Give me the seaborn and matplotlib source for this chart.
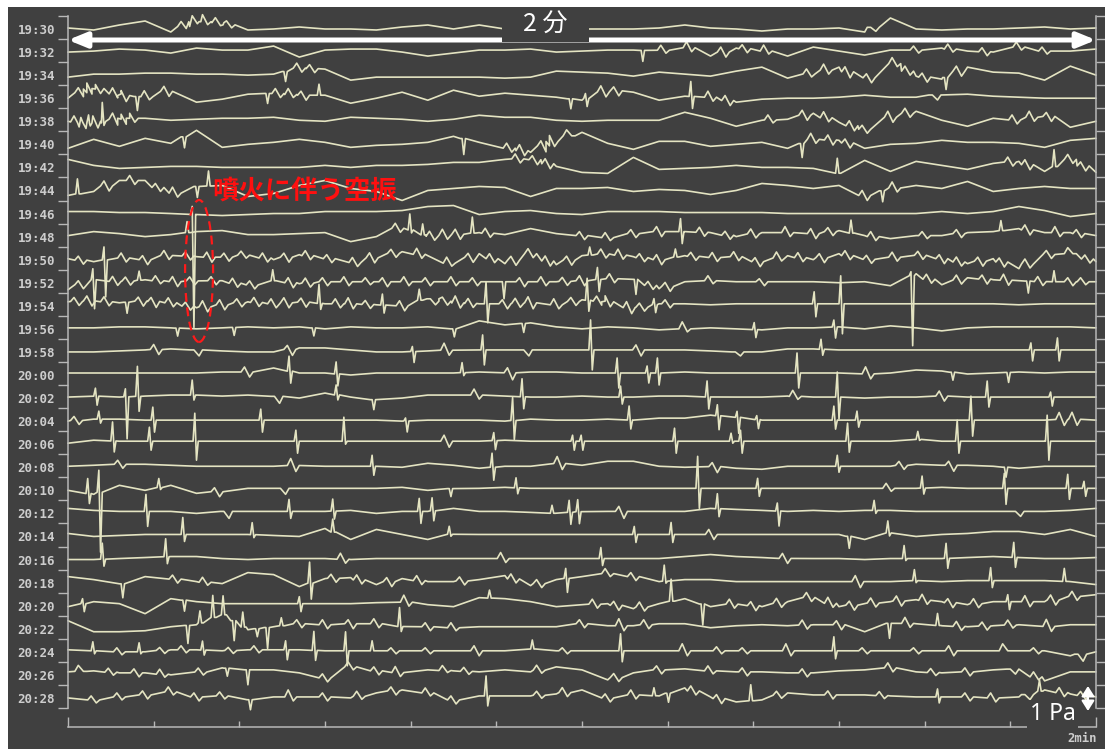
import numpy as np
import pandas as pd
import matplotlib
matplotlib.use("Agg")
import matplotlib.pyplot as plt
import seaborn as sns
from matplotlib.patches import Ellipse, Rectangle

# ---------------- data ----------------
LABELS = ["19:30", "19:32", "19:34", "19:36", "19:38", "19:40", "19:42", "19:44",
          "19:46", "19:48", "19:50", "19:52", "19:54", "19:56", "19:58", "20:00",
          "20:02", "20:04", "20:06", "20:08", "20:10", "20:12", "20:14", "20:16",
          "20:18", "20:20", "20:22", "20:24", "20:26", "20:28"]

# sample times (s) of the slow trace level, 0..120 s every 3 s
T_GRID = np.arange(0, 121, 3)
# unit of all trace values: 1 unit = 0.04 Pa
UNIT_PA = 0.04

r1930 = [1,-1,4,8,-3,8,6,-1,0,2,0,0,-1,2,4,0,4,0,1,0,0, 0,0,1,4,1,0,-2,0,0,1,-3,11,0,-1,0,0,1,2,0,1]
r1932 = [0,1,3,2,-1,4,2,2,6,-5,2,3,3,0,-4,-1,2,2,3,0,1, 2,2,1,6,-4,4,2,-4,5,1,-3,2,2,4,1,0,5,1,1,3]
r1934 = [-2,1,1,2,2,1,1,0,1,7,6,-5,-2,-2,-2,-2,-2,-3,-2,4,3, 2,-1,3,1,-1,4,8,-3,2,8,-6,14,-1,-4,8,3,2,-5,9,0]
r1936 = [0,11,3,1,8,-4,-1,4,5,3,3,-5,0,6,-2,8,2,5,3,1,-2, 8,6,-2,2,1,-4,-1,0,0,1,3,1,1,4,4,2,1,0,0,0]
r1938 = [0,-2,3,3,1,2,3,3,4,1,0,4,3,2,0,2,6,4,4,1,0, 1,1,1,9,3,-5,1,2,8,-1,-8,4,10,1,-5,3,1,7,-6,0]
r1940 = [-4,5,-2,6,1,14,-3,0,2,5,2,-3,-1,0,2,8,2,-3,-8,5,12, 1,-5,3,3,-2,0,2,-4,5,4,-4,0,1,4,2,2,1,-3,4,6]
r1942 = [8,2,-1,0,1,1,0,0,0,0,2,0,2,2,3,5,5,8,9,1,-5, -6,10,-2,-1,0,2,0,0,-1,-6,7,-4,6,2,-2,4,6,-4,8,-5]
r1944 = [-5,-1,10,10,-4,4,5,-6,-3,5,10,2,-1,-10,0,2,4,3,-6,2,2, 3,-1,1,0,-4,0,7,5,2,5,-5,2,5,2,9,-1,2,4,2,2]
r1946 = [2,2,1,1,0,-1,-2,-1,0,0,2,2,2,3,7,8,-1,2,3,0,-1, 2,2,2,1,1,1,1,0,0,0,0,0,0,2,0,2,7,3,-3,0]
r1948 = [1,5,3,0,2,5,6,2,2,3,4,-5,0,10,0,2,4,2,8,3,1, -1,3,5,5,4,0,4,4,3,6,1,-2,1,1,4,5,8,4,4,1]
r1950 = [1,-2,2,0,5,3,2,5,0,5,2,-4,3,8,4,-5,6,-4,6,-5,4, 6,3,0,4,2,3,-3,4,0,6,0,2,5,1,-4,1,-9,5,6,-2]
r1952 = [-7,3,1,3,1,2,2,-3,2,-1,1,1,1,1,1,1,1,1,1,1,2, 4,4,-6,1,2,1,1,1,1,0,1,-3,9,-2,5,3,2,1,1,1]
r1954 = [4,5,3,5,3,-2,1,4,2,4,2,2,1,0,8,3,2,2,3,1,6, 4,-3,2,2,1,2,2,2,2,2,2,2,2,2,2,2,1,2,2,2]
r1956 = [1,1,2,2,1,0,1,2,1,2,0,2,1,1,2,0,8,4,6,2,0, 2,1,-1,0,1,0,-1,1,1,2,0,3,1,-2,1,2,2,2,2,1]
r1958 = [0,0,1,2,3,2,1,0,0,4,4,2,0,0,1,2,2,2,2,2,2, 2,2,2,2,1,0,0,3,3,2,2,2,2,2,2,2,2,2,2,2]
r2000 = [2,2,2,2,2,2,3,3,7,2,2,0,2,2,2,2,3,2,3,3,2, 2,2,2,3,2,2,2,2,2,2,1,2,5,4,1,2,3,2,3,3]
r2002 = [1,2,1,2,3,3,2,3,2,0,5,1,-2,0,3,3,3,2,1,1,2, 1,1,2,2,1,1,1,2,1,1,0,1,1,2,1,1,1,1,1,1]
r2004 = [0,2,2,1,1,1,1,1,1,1,1,1,1,0,1,1,1,0,2,1,1, 2,1,3,3,6,4,1,1,1,1,1,1,1,1,1,1,1,1,2,1]
r2006 = [1,4,3,3,3,3,3,3,3,3,3,3,3,3,3,3,3,4,3,3,3, 3,3,3,3,3,3,3,3,3,3,3,3,5,3,3,3,3,3,3,3]
r2008 = [1,2,3,3,2,1,1,1,1,2,1,1,1,0,4,2,-1,1,1,4,2, 6,6,1,0,1,-1,-2,1,1,1,1,1,3,2,2,1,-1,1,1,1]
r2010 = [0,-4,5,0,5,-3,-1,2,2,2,2,2,2,3,0,2,2,3,2,2,2, 2,2,2,2,2,2,2,2,2,2,2,2,2,3,2,2,2,2,2,2]
r2012 = [5,3,2,2,2,0,2,2,2,2,2,3,0,2,2,5,2,2,1,0,2, 2,2,2,2,5,4,3,2,3,2,3,3,2,2,2,2,2,2,3,5]
r2014 = [3,0,1,2,2,2,2,2,1,0,8,-3,7,2,-3,3,2,2,2,2,2, 2,2,2,2,2,2,2,2,2,2,-3,4,0,2,3,5,5,2,7,0]
r2016 = [0,0,1,2,3,3,1,0,1,1,1,0,1,1,1,1,1,1,1,1,1, 1,1,1,3,5,3,2,1,1,1,0,1,1,1,2,3,2,1,1,2]
r2018 = [6,3,-2,6,4,1,-1,10,8,-4,4,5,-2,4,1,1,3,7,-3,3,6, 9,6,1,3,3,1,1,1,1,1,1,1,2,1,2,2,2,2,1,-2]
r2020 = [-1,4,2,-8,7,4,2,2,2,2,2,2,3,4,1,-1,8,7,4,-1,1, 2,-3,2,7,-1,2,-1,4,9,-1,2,4,6,4,1,4,4,4,9,11]
r2022 = [8,-3,-3,-2,2,4,15,-1,2,5,4,5,5,2,2,1,2,2,2,2,5, 3,3,5,5,1,3,4,3,4,4,-3,6,5,3,2,3,4,2,4,4]
r2024 = [2,1,0,0,2,2,1,2,2,2,1,1,1,1,1,1,1,1,3,1,1, 1,1,1,1,1,1,1,1,1,1,1,1,1,1,1,1,1,1,-4,0]
r2026 = [3,4,2,2,0,2,7,5,5,2,-3,8,4,2,5,4,3,5,3,8,5, -5,2,5,6,4,3,3,2,2,4,5,7,3,2,3,5,6,-6,3,3]
r2028 = [0,-2,1,3,6,1,2,-2,1,1,1,0,5,8,5,-2,2,2,2,4,8, 0,3,2,10,1,-4,-2,5,3,3,3,2,1,1,1,0,1,8,4,1]

# spikes / wiggles: (time s, height above level, depth below level)
s1930 = [(13.5, 5, 2), (14.8, 6, 2), (16.0, 7, 3), (17.5, 5, 3), (18.8, 4, 3), (94.0, 0, 4)]
s1932 = [(67.0, 0, 11), (69.5, 5, 3), (72.5, 6, 4), (76.5, 5, 5), (79.0, 4, 4), (81.5, 6, 3),
         (99.0, 4, 3), (103.0, 5, 3), (107.0, 4, 4), (111.0, 5, 3), (114.0, 4, 3)]
s1934 = [(25.3, 0, 10), (27.0, 5, 4), (28.5, 4, 4), (86.5, 5, 3), (88.5, 6, 4), (91.0, 5, 6),
         (93.5, 4, 5), (96.5, 6, 3), (98.0, 5, 4), (100.0, 4, 5), (102.4, 0, 12), (104.0, 5, 5)]
s1936 = [(1.5, 5, 4), (2.5, 6, 5), (3.5, 4, 5), (5.5, 6, 4), (6.5, 5, 6), (8.0, 0, 14), (9.2, 6, 3),
         (11.5, 5, 5), (23.2, 0, 10), (24.5, 5, 4), (26.0, 6, 3), (27.5, 4, 5), (29.4, 11, 0),
         (58.6, 0, 10), (60.5, 5, 8), (62.5, 6, 5), (64.0, 4, 5), (72.8, 15, 12), (75.0, 6, 4),
         (77.0, 5, 5), (101.2, 0, 5)]
s1938 = [(1.0, 6, 5), (1.8, 5, 6), (2.5, 8, 3), (3.2, 7, 5), (4.1, 19, 4), (5.5, 6, 6), (6.5, 4, 6),
         (7.5, 5, 4), (82.0, 5, 3), (86.0, 5, 5), (88.5, 6, 4), (91.5, 5, 5), (93.0, 4, 4),
         (96.0, 6, 5), (98.0, 5, 4), (110.5, 5, 4), (112.5, 6, 4), (114.5, 4, 5)]
s1940 = [(13.5, 0, 11), (46.1, 0, 16), (51.5, 5, 4), (53.0, 6, 5), (55.5, 5, 6), (56.5, 6, 5),
         (58.5, 6, 0), (85.6, 0, 14), (87.0, 6, 4), (89.0, 5, 5), (91.0, 4, 5)]
s1942 = [(52.5, 5, 4), (54.5, 4, 5), (56.0, 5, 5), (89.9, 15, 0), (110.0, 5, 4), (112.0, 5, 5),
         (115.2, 17, 0), (117.0, 5, 4), (118.5, 4, 5)]
s1944 = [(1.2, 15, 0), (4.5, 5, 5), (7.5, 5, 4), (10.5, 4, 4), (12.5, 6, 4), (15.0, 0, 11),
         (16.5, 15, 0), (93.0, 5, 5), (95.0, 0, 11), (96.5, 6, 4)]
s1946 = [(14.6, 8, 113)]
s1948 = [(14.0, 11, 0), (38.5, 5, 4), (40.0, 16, 3), (41.5, 11, 0), (42.5, 5, 4), (44.0, 6, 4),
         (45.5, 5, 5), (47.3, 16, 0), (49.0, 5, 4), (60.0, 4, 4), (63.0, 5, 3), (66.0, 4, 4),
         (69.0, 5, 5), (71.6, 13, 12), (74.0, 5, 4), (77.0, 4, 4), (80.0, 5, 4), (84.0, 6, 4),
         (87.0, 5, 5), (89.0, 4, 4), (91.5, 13, 0), (94.0, 5, 4), (100.0, 4, 3), (104.0, 4, 4),
         (109.0, 10, 0), (112.0, 5, 5), (115.5, 6, 4), (118.0, 4, 4)]
s1950 = [(1.5, 4, 4), (4.3, 13, 37), (6.5, 5, 4), (9.0, 4, 5), (11.5, 5, 4), (14.0, 4, 4),
         (16.5, 5, 5), (18.5, 4, 4), (20.5, 4, 3), (23.0, 5, 4), (25.5, 4, 5), (28.0, 5, 4),
         (30.5, 4, 4), (33.5, 5, 4), (35.5, 5, 5), (38.0, 4, 4), (41.0, 6, 4), (44.5, 6, 3),
         (47.0, 4, 5), (49.5, 5, 4), (52.0, 4, 5), (54.0, 5, 4), (56.0, 5, 5), (58.5, 4, 5),
         (61.0, 8, 0), (62.5, 5, 4), (64.5, 6, 4), (67.0, 4, 4), (69.0, 5, 5), (71.0, 8, 0),
         (73.0, 4, 4), (75.5, 5, 4), (78.0, 5, 4), (80.5, 4, 5), (83.0, 6, 3), (85.5, 5, 4),
         (88.0, 4, 5), (91.0, 5, 4), (93.5, 4, 4), (96.5, 5, 4), (99.5, 4, 4), (102.0, 4, 5),
         (104.0, 5, 4), (106.5, 4, 5), (109.0, 4, 5), (112.0, 5, 4), (114.5, 4, 4), (117.0, 6, 0),
         (119.0, 4, 4)]
s1952 = [(1.5, 4, 4), (3.0, 11, 29), (5.5, 5, 4), (7.0, 4, 4), (8.4, 9, 0), (10.5, 5, 3),
         (12.5, 5, 5), (14.5, 4, 4), (17.0, 4, 4), (19.5, 5, 4), (21.5, 4, 4), (24.0, 11, 0),
         (26.0, 5, 5), (28.0, 5, 4), (30.0, 4, 4), (32.5, 5, 4), (35.0, 4, 3), (37.0, 4, 5),
         (39.5, 5, 4), (42.0, 4, 4), (45.0, 5, 4), (47.5, 4, 4), (50.8, 0, 17), (53.0, 4, 5),
         (55.5, 5, 4), (58.0, 4, 4), (60.0, 5, 5), (61.9, 12, 12), (63.5, 5, 4), (66.2, 0, 15),
         (68.0, 4, 4), (70.0, 4, 5), (75.0, 5, 3), (81.0, 3, 4), (98.5, 4, 70), (100.5, 5, 4),
         (104.0, 5, 4), (107.0, 4, 5), (109.5, 6, 5), (112.0, 0, 12), (113.5, 5, 4),
         (115.2, 11, 0), (117.0, 4, 4), (118.5, 4, 3)]
s1954 = [(1.0, 4, 4), (2.5, 5, 5), (4.5, 5, 4), (6.8, 0, 11), (8.5, 4, 5), (10.0, 4, 6),
         (12.0, 5, 4), (14.0, 4, 4), (16.0, 6, 5), (18.0, 5, 5), (20.0, 4, 4), (22.0, 5, 4),
         (24.0, 5, 4), (25.5, 5, 5), (27.5, 4, 5), (29.4, 19, 6), (31.5, 5, 4), (33.0, 6, 5),
         (35.0, 4, 4), (36.8, 11, 8), (39.0, 5, 5), (41.1, 11, 0), (42.6, 0, 6), (44.0, 4, 4),
         (45.5, 7, 5), (47.0, 5, 4), (48.9, 22, 19), (51.0, 4, 5), (52.5, 5, 4), (54.0, 6, 6),
         (57.0, 6, 4), (59.0, 4, 4), (60.7, 22, 11), (62.0, 5, 4), (63.0, 6, 5), (65.5, 6, 6),
         (67.0, 4, 4), (68.5, 6, 8), (70.0, 4, 4), (87.2, 12, 13), (90.3, 28, 30)]
s1956 = [(12.7, 0, 8), (19.3, 0, 8), (28.6, 0, 8), (45.0, 0, 8), (53.1, 0, 9), (72.0, 7, 3),
         (80.2, 7, 8), (89.5, 7, 11)]
s1958 = [(10.3, 5, 5), (15.0, 0, 6), (25.9, 4, 6), (40.3, 5, 11), (44.2, 7, 5), (48.5, 15, 15),
         (53.5, 0, 6), (61.1, 30, 20), (66.6, 5, 6), (78.2, 0, 4), (88.0, 10, 6), (112.5, 7, 11),
         (115.6, 12, 11)]
s2000 = [(20.9, 5, 5), (25.9, 15, 12), (31.4, 12, 12), (46.1, 10, 3), (51.6, 5, 7), (64.2, 15, 15),
         (67.7, 7, 10), (68.9, 15, 12), (85.2, 20, 15), (93.4, 7, 5), (103.2, 0, 8), (109.7, 0, 10)]
s2002 = [(3.3, 8, 9), (6.8, 8, 42), (8.2, 30, 15), (14.6, 15, 5), (24.4, 0, 7), (31.4, 10, 5),
         (35.6, 0, 10), (47.7, 6, 4), (53.1, 18, 12), (64.6, 11, 7), (74.7, 16, 12), (84.9, 6, 3),
         (89.9, 25, 22), (102.0, 5, 5), (107.4, 16, 10), (114.8, 5, 9)]
s2004 = [(1.0, 4, 4), (3.7, 8, 4), (10.0, 13, 12), (22.6, 11, 12), (39.5, 3, 11), (52.0, 23, 19),
         (65.6, 14, 9), (75.9, 11, 14), (78.2, 6, 16), (80.5, 4, 9), (89.5, 14, 9), (92.2, 9, 7),
         (105.5, 24, 16), (116.0, 7, 6), (117.5, 7, 6)]
s2006 = [(5.3, 19, 11), (9.6, 14, 9), (14.9, 28, 19), (26.7, 11, 12), (32.3, 24, 3), (44.2, 6, 6),
         (49.8, 8, 9), (59.0, 6, 9), (60.0, 6, 9), (70.9, 13, 12), (77.5, 8, 2), (78.6, 11, 12),
         (91.1, 18, 11), (99.3, 8, 1), (103.9, 21, 12), (114.4, 26, 19)]
s2008 = [(6.1, 4, 4), (26.3, 7, 6), (35.6, 11, 9), (49.6, 14, 13), (57.4, 7, 6), (75.5, 4, 6),
         (89.9, 11, 6), (97.3, 4, 4), (103.1, 4, 6), (109.4, 0, 10)]
s2010 = [(2.4, 15, 10), (3.7, 22, 60), (10.7, 9, 2), (17.4, 4, 5), (25.1, 0, 6), (44.6, 0, 8),
         (52.4, 10, 6), (73.6, 32, 20), (80.6, 10, 8), (95.8, 5, 3), (99.8, 12, 6), (109.4, 15, 16),
         (116.8, 14, 11), (118.7, 7, 8)]
s2012 = [(9.2, 17, 15), (18.5, 0, 7), (25.9, 12, 7), (31.0, 12, 8), (41.1, 13, 12), (42.6, 13, 10),
         (56.6, 8, 0), (58.6, 12, 12), (59.6, 12, 12), (64.6, 5, 7), (75.9, 15, 8), (82.9, 8, 15),
         (94.2, 10, 3), (110.9, 0, 5)]
s2014 = [(13.5, 17, 7), (21.6, 12, 3), (31.0, 13, 0), (44.6, 8, 2), (66.2, 8, 8), (70.5, 12, 8),
         (75.1, 5, 5), (91.1, 0, 12), (95.8, 12, 3)]
s2016 = [(4.1, 16, 7), (11.5, 18, 7), (32.1, 6, 4), (50.8, 6, 4), (62.3, 11, 7), (83.7, 5, 5),
         (97.7, 13, 2), (102.6, 15, 10), (110.5, 15, 10)]
s2018 = [(6.3, 0, 14), (12.5, 4, 4), (16.0, 5, 3), (28.3, 21, 16), (31.0, 4, 4), (34.0, 5, 4),
         (37.5, 4, 5), (41.0, 5, 4), (46.0, 4, 4), (52.0, 5, 4), (55.0, 4, 4), (58.2, 10, 14),
         (63.0, 5, 3), (66.0, 4, 4), (69.7, 16, 2), (92.2, 6, 6), (98.9, 11, 2), (107.8, 13, 7),
         (116.4, 13, 0)]
s2020 = [(1.8, 5, 8), (13.5, 0, 11), (27.1, 7, 8), (39.5, 7, 4), (49.3, 8, 0), (61.5, 5, 4),
         (64.0, 4, 5), (67.0, 5, 4), (70.5, 22, 0), (74.0, 0, 21), (77.5, 5, 4), (80.0, 4, 5),
         (83.0, 5, 4), (86.5, 5, 4), (89.0, 6, 4), (91.5, 4, 5), (94.0, 5, 4), (97.0, 5, 5),
         (100.0, 6, 4), (103.0, 4, 5), (106.0, 5, 4), (109.8, 7, 8), (112.0, 6, 5), (115.0, 5, 5),
         (117.5, 5, 4)]
s2022 = [(13.9, 0, 18), (15.5, 12, 0), (17.0, 22, 0), (18.2, 19, 0), (19.3, 0, 20), (20.5, 15, 0),
         (22.0, 0, 8), (23.2, 0, 21), (25.0, 8, 0), (27.0, 4, 4), (30.0, 5, 4), (33.0, 4, 5),
         (36.0, 5, 4), (38.8, 19, 5), (42.0, 4, 4), (45.0, 5, 3), (60.0, 4, 4), (64.6, 7, 5),
         (67.5, 5, 4), (86.0, 5, 4), (90.0, 4, 5), (95.8, 0, 15), (98.0, 6, 4), (101.6, 12, 0),
         (104.0, 5, 4), (107.0, 4, 4), (110.0, 5, 3), (114.5, 7, 5)]
s2024 = [(3.0, 9, 3), (6.0, 4, 3), (8.4, 9, 2), (11.0, 3, 3), (13.5, 4, 3), (15.8, 9, 5),
         (19.0, 3, 3), (22.0, 4, 3), (25.5, 9, 10), (28.8, 19, 10), (32.5, 19, 15), (35.6, 10, 0),
         (38.0, 3, 3), (42.0, 3, 3), (47.7, 5, 5), (54.3, 9, 0), (58.0, 3, 3), (64.6, 17, 11),
         (72.0, 7, 5), (76.0, 4, 3), (79.0, 3, 3), (84.1, 7, 5), (89.5, 14, 8), (93.0, 3, 3),
         (99.0, 3, 3), (103.1, 5, 5), (109.4, 7, 0), (113.0, 3, 3), (118.2, 0, 7)]
s2026 = [(1.5, 6, 0), (5.0, 4, 3), (8.0, 4, 4), (11.0, 5, 3), (15.5, 4, 3), (18.5, 0, 8),
         (20.9, 0, 15), (30.0, 4, 4), (33.0, 5, 3), (36.0, 4, 4), (38.5, 6, 4), (44.0, 5, 2),
         (46.5, 4, 3), (55.0, 5, 3), (64.0, 4, 4), (69.0, 4, 4), (75.0, 5, 3), (79.0, 4, 4),
         (86.0, 4, 4), (96.0, 5, 4), (101.0, 4, 3), (105.0, 4, 4), (110.3, 0, 5), (113.0, 5, 3)]
s2028 = [(3.0, 4, 3), (6.0, 4, 3), (9.0, 4, 4), (12.0, 5, 3), (15.0, 4, 4), (18.0, 4, 3),
         (21.2, 0, 10), (26.0, 7, 4), (30.0, 4, 4), (34.0, 5, 3), (38.0, 4, 4), (42.0, 5, 3),
         (45.0, 4, 4), (48.9, 20, 10), (55.0, 4, 3), (58.0, 5, 4), (63.0, 4, 4), (66.0, 5, 4),
         (68.5, 8, 0), (70.0, 0, 9), (73.0, 5, 4), (76.0, 4, 5), (79.8, 16, 0), (83.0, 4, 3),
         (89.0, 4, 4), (95.0, 4, 3), (101.6, 8, 6), (105.0, 4, 4), (108.0, 5, 4), (112.0, 0, 5),
         (113.5, 11, 0), (116.0, 5, 4), (118.5, 4, 4)]

WANDER = [r1930, r1932, r1934, r1936, r1938, r1940, r1942, r1944, r1946, r1948,
          r1950, r1952, r1954, r1956, r1958, r2000, r2002, r2004, r2006, r2008,
          r2010, r2012, r2014, r2016, r2018, r2020, r2022, r2024, r2026, r2028]
SPIKES = [s1930, s1932, s1934, s1936, s1938, s1940, s1942, s1944, s1946, s1948,
          s1950, s1952, s1954, s1956, s1958, s2000, s2002, s2004, s2006, s2008,
          s2010, s2012, s2014, s2016, s2018, s2020, s2022, s2024, s2026, s2028]

# ---------------- styling ----------------
BG = "#404040"
TRACE = "#e4e4c2"
AXC = "#b8b8b8"
LABC = "#cdcdcd"
ROW = 692 / 30.0          # vertical spacing of traces (units)
TOP = 13.0                # upper axis limit above first baseline

# ---------------- build long table ----------------
frames = []
for i, (lab, w, sp) in enumerate(zip(LABELS, WANDER, SPIKES)):
    w = np.asarray(w, dtype=float)
    keep = np.ones(len(T_GRID), bool)
    t, v = [], []
    for ts, up, dn in sp:
        small = max(up, dn) <= 7          # small wiggles are broader than sharp pulses
        a, b = (0.3, 0.7) if small else (0.1, 0.3)
        keep &= np.abs(T_GRID - ts) > b + 0.1
        lvl = float(np.interp(ts, T_GRID, w))
        t += [ts - b, ts - a, ts + a, ts + b]
        v += [lvl, lvl + up, lvl - dn, lvl]
    t = np.asarray(list(T_GRID[keep]) + t)
    v = np.asarray(list(w[keep]) + v)
    o = np.argsort(t, kind="stable")
    frames.append(pd.DataFrame({"t": t[o], "y": v[o] - i * ROW, "row": lab}))
df = pd.concat(frames, ignore_index=True)

# ---------------- figure ----------------
sns.set_theme(style="dark")
plt.rcParams["font.family"] = ["DejaVu Sans"]
fig = plt.figure(figsize=(11.05, 7.49), dpi=100, facecolor="white")
fig.add_artist(Rectangle((8 / 1105, 0), 1.0, 1 - 7 / 749, transform=fig.transFigure,
                         facecolor=BG, edgecolor="none", zorder=-10))

W, H = 1105.0, 749.0
ax = fig.add_axes([68 / W, (H - 708) / H, (1096 - 68) / W, 692 / H])
ax.set_facecolor("none")
ax.grid(False)

sns.lineplot(data=df, x="t", y="y", units="row", estimator=None, sort=False,
             color=TRACE, lw=1.2, ax=ax, legend=False, zorder=2)
for ln in ax.lines:
    ln.set_clip_on(False)
    ln.set_solid_joinstyle("round")

ax.set_xlim(0, 120)
ax.set_ylim(TOP - 692, TOP)
ax.set_xlabel("")
ax.set_ylabel("")

# spines
for side in ["left", "right", "bottom"]:
    ax.spines[side].set_visible(True)
    ax.spines[side].set_color(AXC)
    ax.spines[side].set_linewidth(1.1)
ax.spines["top"].set_visible(False)
ax.spines["bottom"].set_position(("outward", 13.7))

# y ticks: boundaries (major) and time labels (minor)
bounds = [TOP - ROW * k for k in range(31)]
bases = [-ROW * i for i in range(30)]
ax.set_yticks(bounds)
ax.set_yticklabels([])
ax.set_yticks(bases, minor=True)
ax.set_yticklabels(LABELS, minor=True)
ax.tick_params(axis="y", which="major", left=True, right=True, direction="out",
               length=7.2, width=1.0, color=AXC)
ax.tick_params(axis="y", which="minor", left=True, right=False, length=0, pad=9.4,
               labelsize=9, labelcolor=LABC)
for lbl in ax.get_yticklabels(minor=True):
    lbl.set_fontfamily("DejaVu Sans Mono")
    lbl.set_fontweight("bold")

# x ticks: 10 s marks, pointing up
ax.set_xticks([0, 120])
ax.set_xticks(list(range(10, 120, 10)), minor=True)
ax.tick_params(axis="x", which="both", bottom=True, direction="in", labelbottom=False,
               color=AXC, width=1.0)
ax.tick_params(axis="x", which="major", length=7.2)
ax.tick_params(axis="x", which="minor", length=4.3)
ax.text(1.001, -0.0434, "2min", transform=ax.transAxes, ha="right", va="center",
        fontsize=8.8, color=LABC, fontfamily="DejaVu Sans Mono", fontweight="bold")

# 2-minute double arrow with label
ARROW_Y = TOP - (40 - 16)
ax.annotate("", xy=(120, ARROW_Y), xytext=(0, ARROW_Y), xycoords="data",
            arrowprops=dict(arrowstyle="<|-|>,head_length=1.1,head_width=0.45",
                            mutation_scale=10, lw=3.6, color="white",
                            shrinkA=0, shrinkB=0),
            annotation_clip=False, zorder=3)
ax.add_patch(Rectangle((50.66, TOP - (41.5 - 16)), 10.14, 34.5, facecolor=BG,
                       edgecolor="none", zorder=3.5, clip_on=False))
ax.text(55.7, TOP - (25 - 16), "2 分", ha="center", va="center", fontsize=18,
        color="white", family=["Noto Sans CJK JP", "DejaVu Sans"], zorder=4,
        clip_on=False)

# eruption annotation
ax.text(16.8, TOP - (192 - 16), "噴火に伴う空振", ha="left", va="center", fontsize=19,
        color="#ff1010", fontweight="bold", family=["Noto Sans CJK JP", "DejaVu Sans"],
        zorder=5)
ax.add_patch(Ellipse((15.3, TOP - (271 - 16)), 28 / 8.567, 142, fill=False,
                     edgecolor="#ff1a1a", lw=1.6, ls=(0, (4, 2.5)), zorder=5))

# 1 Pa scale
ax.annotate("", xy=(119.06, TOP - (686 - 16)), xytext=(119.06, TOP - (711 - 16)),
            arrowprops=dict(arrowstyle="<|-|>,head_length=0.6,head_width=0.38",
                            mutation_scale=10, lw=1.6, color="white",
                            shrinkA=0, shrinkB=0),
            annotation_clip=False, zorder=5)
ax.text(117.6, TOP - (714.5 - 16), "1 Pa", ha="right", va="center", fontsize=16.5,
        color="white", family=["Noto Sans", "DejaVu Sans"], zorder=4, clip_on=False,
        bbox=dict(boxstyle="square,pad=0.12", facecolor=BG, edgecolor="none"))

fig.savefig("out.png", dpi=100, facecolor="white")
